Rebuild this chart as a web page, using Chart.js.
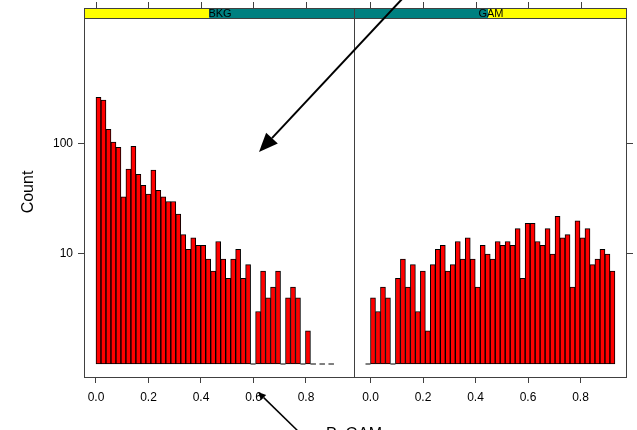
<!DOCTYPE html>
<html>
<head>
<meta charset="utf-8">
<script src="https://cdn.jsdelivr.net/npm/chart.js@4.4.0/dist/chart.umd.min.js"></script>
<style>
  html, body { margin: 0; padding: 0; background: #fff; }
  #wrap { position: relative; width: 637px; height: 430px; overflow: hidden; }
  #gamChart { position: absolute; left: 354px; top: 0; z-index: 1; }
  #bkgChart { position: absolute; left: 0; top: 0; z-index: 2; pointer-events: none; }
</style>
</head>
<body>
<div id="wrap">
  <canvas id="gamChart" width="283" height="430"></canvas>
  <canvas id="bkgChart" width="637" height="430"></canvas>
</div>
<script>
// histogram bins (shared breaks), first bin starts at binStart
const binStart = -0.019;
const binWidth = 0.019;
const panels = ['BKG', 'GAM'];
// null = no bin drawn, 0 = empty bin (drawn as baseline)
const bkgCounts = [null, 266, 251, 136, 104, 93, 33, 59, 95, 53, 42,
    35, 58, 38, 33, 30, 30, 23, 15, 11, 14,
    12, 12, 9, 7, 13, 9, 6, 9, 11, 6,
    8, 0, 3, 7, 4, 5, 7, 0, 4, 5,
    4, 0, 2, 0, 0, 0, 0, 0];
const gamCounts = [0, 4, 3, 5, 4, 0, 6, 9, 5, 8, 3,
    7, 2, 8, 11, 12, 7, 8, 13, 9, 14,
    9, 5, 12, 10, 9, 13, 12, 13, 12, 17,
    6, 19, 19, 13, 12, 17, 10, 22, 14, 15,
    5, 20, 14, 17, 8, 9, 11, 10, 7];
const xTicks = [0, 0.2, 0.4, 0.6, 0.8];
const countTicks = [10, 100];
const countRange = [0.746, 1368];
const xTitle = 'P_GAM';
const yTitle = 'Count';

const FONT = "'Liberation Sans', Arial, sans-serif";
const AXIS = '#404040';

function barData(counts) {
    return counts.map((c, i) => ({
        x: binStart + (i + 0.5) * binWidth,
        y: c ? [1, c] : null
    }));
}

// runs of empty bins -> baseline segments
function zeroData(counts) {
    const pts = [];
    let i = 0;
    while (i < counts.length) {
        if (counts[i] !== 0) { i++; continue; }
        let j = i;
        while (j + 1 < counts.length && counts[j + 1] === 0) j++;
        const lo = binStart + i * binWidth, hi = binStart + (j + 1) * binWidth;
        pts.push({x: lo, y: 1}, {x: hi, y: 1}, {x: hi, y: null});
        i = j + 1;
    }
    return pts;
}

// lattice style strip + panel box + top tick marks
const panelPlugin = {
    id: 'panel',
    afterDraw(chart, args, opts) {
        const {ctx, chartArea: a} = chart;
        const w = a.right - a.left;
        const split = a.left + w * opts.split;
        ctx.save();
        ctx.fillStyle = opts.colors[0];
        ctx.fillRect(a.left, a.top - 10, split - a.left, 10);
        ctx.fillStyle = opts.colors[1];
        ctx.fillRect(split, a.top - 10, a.right - split, 10);
        ctx.strokeStyle = AXIS;
        ctx.lineWidth = 1;
        ctx.strokeRect(a.left - 0.5, a.top - 10.5, w, 10);
        ctx.strokeRect(a.left - 0.5, a.top - 0.5, w, a.bottom - a.top);
        ctx.fillStyle = '#000';
        ctx.font = '11px ' + FONT;
        ctx.textAlign = 'center';
        ctx.textBaseline = 'middle';
        ctx.fillText(opts.label, (a.left + a.right) / 2, a.top - 5);
        const xs = chart.scales.x;
        ctx.beginPath();
        xTicks.forEach(v => {
            const px = Math.round(xs.getPixelForValue(v)) + 0.5;
            ctx.moveTo(px, a.top - 10.5);
            ctx.lineTo(px, a.top - 17);
        });
        ctx.stroke();
        ctx.restore();
    }
};

function arrow(ctx, x0, y0, x1, y1, head, half, lw) {
    const ang = Math.atan2(y1 - y0, x1 - x0);
    const bx = x1 - head * Math.cos(ang), by = y1 - head * Math.sin(ang);
    ctx.lineWidth = lw;
    ctx.beginPath();
    ctx.moveTo(x0, y0);
    ctx.lineTo(bx, by);
    ctx.stroke();
    ctx.beginPath();
    ctx.moveTo(x1, y1);
    ctx.lineTo(bx + half * Math.sin(ang), by - half * Math.cos(ang));
    ctx.lineTo(bx - half * Math.sin(ang), by + half * Math.cos(ang));
    ctx.closePath();
    ctx.fill();
}

// axis titles and the hand drawn arrows, on top of both panels
const overlayPlugin = {
    id: 'overlay',
    afterDraw(chart) {
        const ctx = chart.ctx;
        ctx.save();
        ctx.fillStyle = '#000';
        ctx.strokeStyle = '#000';
        ctx.font = '16px ' + FONT;
        ctx.textAlign = 'center';
        ctx.textBaseline = 'alphabetic';
        ctx.fillText(xTitle, 354, 439);
        ctx.translate(33, 192);
        ctx.rotate(-Math.PI / 2);
        ctx.fillText(yTitle, 0, 0);
        ctx.restore();
        ctx.save();
        ctx.fillStyle = '#000';
        ctx.strokeStyle = '#000';
        arrow(ctx, 403, -2, 259, 152, 19, 8, 2);
        arrow(ctx, 301, 434, 258, 392, 8, 3.5, 1.5);
        ctx.restore();
    }
};

function makePanel(id, counts, panel) {
    const left = panel.side === 'left';
    return new Chart(document.getElementById(id), {
        type: 'bar',
        data: {
            datasets: [{
                data: barData(counts),
                backgroundColor: '#ff0000',
                borderColor: '#000000',
                borderWidth: 1,
                borderSkipped: false,
                barPercentage: 1,
                categoryPercentage: 1
            }, {
                type: 'line',
                data: zeroData(counts),
                borderColor: '#000000',
                borderWidth: 1,
                borderDash: [5.5, 3.5],
                pointRadius: 0,
                spanGaps: false
            }]
        },
        options: {
            responsive: false,
            animation: false,
            events: [],
            layout: { padding: left ? {top: 19, right: 282} : {top: 19, left: 1} },
            plugins: {
                legend: { display: false },
                tooltip: { enabled: false },
                panel: { label: panel.label, split: panel.split, colors: panel.colors }
            },
            scales: {
                x: {
                    type: 'linear',
                    min: panel.xMin,
                    max: panel.xMax,
                    offset: false,
                    afterBuildTicks: s => {
                        s.ticks = xTicks.map(v => ({value: v}));
                        s.min = panel.xMin;
                        s.max = panel.xMax;
                    },
                    afterFit: s => { s.height = 52; },
                    ticks: {
                        callback: v => v.toFixed(1),
                        color: '#000',
                        font: { family: FONT, size: 12 },
                        padding: 7,
                        maxRotation: 0,
                        autoSkip: false
                    },
                    grid: { offset: false, drawOnChartArea: false, drawTicks: true, tickLength: 5, color: AXIS },
                    border: { display: false }
                },
                y: {
                    type: 'logarithmic',
                    position: left ? 'left' : 'right',
                    min: countRange[0],
                    max: countRange[1],
                    afterBuildTicks: s => {
                        s.ticks = countTicks.map(v => ({value: v}));
                        s.min = countRange[0];
                        s.max = countRange[1];
                    },
                    afterFit: s => { s.width = left ? 85 : 10; },
                    ticks: {
                        callback: v => left ? String(v) : '',
                        color: '#000',
                        font: { family: FONT, size: 12 },
                        padding: 5
                    },
                    grid: { drawOnChartArea: false, drawTicks: true, tickLength: left ? 7 : 6, color: AXIS },
                    border: { display: false }
                }
            }
        },
        plugins: left ? [panelPlugin, overlayPlugin] : [panelPlugin]
    });
}

makePanel('gamChart', gamCounts, {
    side: 'right', label: panels[1], split: 0.49,
    colors: ['#008080', '#ffff00'], xMin: -0.059, xMax: 0.977
});
makePanel('bkgChart', bkgCounts, {
    side: 'left', label: panels[0], split: 0.46,
    colors: ['#ffff00', '#008080'], xMin: -0.0419, xMax: 0.9867
});
</script>
</body>
</html>
